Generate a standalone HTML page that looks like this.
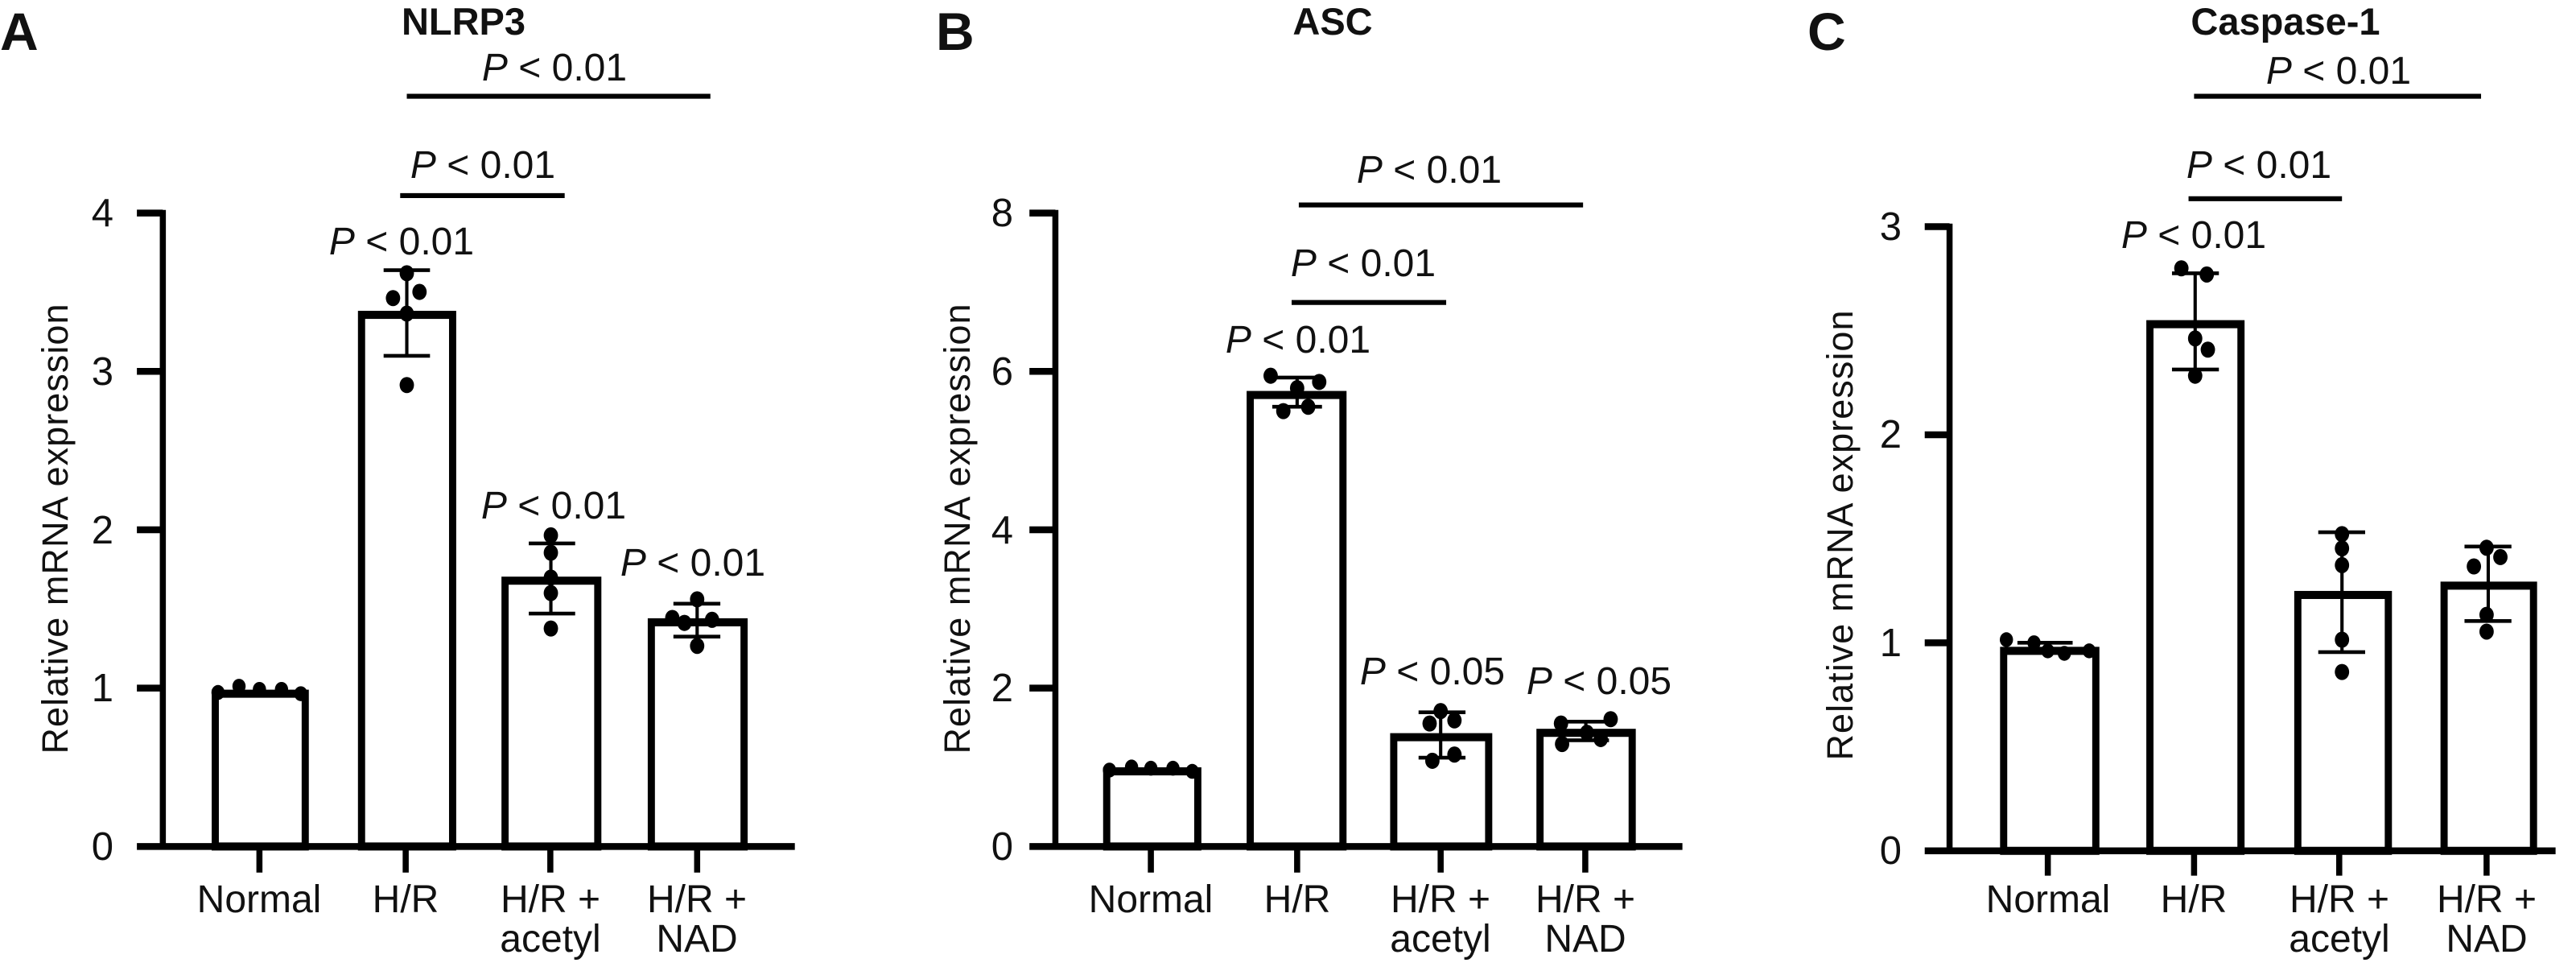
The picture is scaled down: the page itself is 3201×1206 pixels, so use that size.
<!DOCTYPE html>
<html><head><meta charset="utf-8"><style>
html,body{margin:0;padding:0;background:#fff;}
svg text{font-family:"Liberation Sans",sans-serif;fill:#111;}
.tk{font-size:49px;text-anchor:end;}
.xl{font-size:48px;text-anchor:middle;}
.p{font-size:48px;text-anchor:middle;}
.ti{font-size:47px;font-weight:bold;text-anchor:middle;}
.L{font-size:66px;font-weight:bold;}
.yl{font-size:45px;text-anchor:middle;}
</style></head><body>
<svg width="3201" height="1201" viewBox="0 0 3201 1201" xmlns="http://www.w3.org/2000/svg">
<rect width="3201" height="1201" fill="#fff"/>

<svg x="0" y="0" width="1070" height="1201" viewBox="0 0 1560 1557" preserveAspectRatio="none">
<g stroke="#000" stroke-width="11" fill="none">
<line x1="295" y1="338" x2="295" y2="1368"/>
<line x1="248" y1="343" x2="295" y2="343"/><line x1="248" y1="598" x2="295" y2="598"/><line x1="248" y1="853" x2="295" y2="853"/><line x1="248" y1="1108" x2="295" y2="1108"/>
<line x1="248" y1="1363" x2="1440" y2="1363"/>
<line x1="470" y1="1363" x2="470" y2="1405"/><line x1="735" y1="1363" x2="735" y2="1405"/><line x1="997" y1="1363" x2="997" y2="1405"/><line x1="1263" y1="1363" x2="1263" y2="1405"/>
<g stroke-width="13" fill="#fff">
<rect x="390" y="1117" width="163" height="246"/>
<rect x="655" y="507" width="165" height="856"/>
<rect x="915" y="935" width="168" height="428"/>
<rect x="1180" y="1002" width="168" height="361"/>
</g>
<g stroke-width="6">
<line x1="737" y1="435" x2="737" y2="573"/><line x1="695" y1="435" x2="779" y2="435"/><line x1="695" y1="573" x2="779" y2="573"/>
<line x1="998" y1="875" x2="998" y2="988"/><line x1="958" y1="875" x2="1042" y2="875"/><line x1="958" y1="988" x2="1042" y2="988"/>
<line x1="1263" y1="972" x2="1263" y2="1025"/><line x1="1220" y1="972" x2="1305" y2="972"/><line x1="1220" y1="1025" x2="1305" y2="1025"/>
</g>
<line x1="737" y1="155" x2="1287" y2="155" stroke-width="8"/>
<line x1="725" y1="315" x2="1023" y2="315" stroke-width="8"/>
</g>
<g fill="#000">
<circle cx="737" cy="440" r="13"/><circle cx="712" cy="480" r="13"/><circle cx="760" cy="470" r="13"/><circle cx="737" cy="505" r="13"/><circle cx="737" cy="620" r="13"/>
<circle cx="998" cy="862" r="13"/><circle cx="998" cy="890" r="13"/><circle cx="998" cy="930" r="13"/><circle cx="998" cy="955" r="13"/><circle cx="998" cy="1012" r="13"/>
<circle cx="1263" cy="965" r="13"/><circle cx="1218" cy="995" r="13"/><circle cx="1240" cy="1003" r="13"/><circle cx="1290" cy="998" r="13"/><circle cx="1263" cy="1040" r="13"/>
<circle cx="395" cy="1115" r="12"/><circle cx="433" cy="1105" r="12"/><circle cx="470" cy="1110" r="12"/><circle cx="510" cy="1110" r="12"/><circle cx="545" cy="1117" r="12"/>
</g>
</svg>

<svg x="1070" y="0" width="1070" height="1201" viewBox="0 0 1560 1557" preserveAspectRatio="none">
<g stroke="#000" stroke-width="11" fill="none">
<line x1="352" y1="338" x2="352" y2="1368"/>
<line x1="305" y1="343" x2="352" y2="343"/><line x1="305" y1="598" x2="352" y2="598"/><line x1="305" y1="853" x2="352" y2="853"/><line x1="305" y1="1108" x2="352" y2="1108"/>
<line x1="305" y1="1363" x2="1488" y2="1363"/>
<line x1="525" y1="1363" x2="525" y2="1405"/><line x1="790" y1="1363" x2="790" y2="1405"/><line x1="1050" y1="1363" x2="1050" y2="1405"/><line x1="1312" y1="1363" x2="1312" y2="1405"/>
<g stroke-width="13" fill="#fff">
<rect x="445" y="1242" width="165" height="121"/>
<rect x="705" y="636" width="168" height="727"/>
<rect x="965" y="1187" width="172" height="176"/>
<rect x="1230" y="1180" width="167" height="183"/>
</g>
<g stroke-width="6">
<line x1="790" y1="608" x2="790" y2="655"/><line x1="745" y1="608" x2="835" y2="608"/><line x1="745" y1="655" x2="835" y2="655"/>
<line x1="1050" y1="1147" x2="1050" y2="1220"/><line x1="1010" y1="1147" x2="1095" y2="1147"/><line x1="1010" y1="1220" x2="1095" y2="1220"/>
<line x1="1313" y1="1162" x2="1313" y2="1192"/><line x1="1270" y1="1162" x2="1355" y2="1162"/><line x1="1270" y1="1192" x2="1355" y2="1192"/>
</g>
<line x1="793" y1="330" x2="1308" y2="330" stroke-width="8"/>
<line x1="780" y1="487" x2="1060" y2="487" stroke-width="8"/>
</g>
<g fill="#000">
<circle cx="742" cy="605" r="13"/><circle cx="790" cy="625" r="13"/><circle cx="830" cy="615" r="13"/><circle cx="765" cy="662" r="13"/><circle cx="810" cy="655" r="13"/>
<circle cx="1050" cy="1145" r="13"/><circle cx="1030" cy="1165" r="13"/><circle cx="1075" cy="1160" r="13"/><circle cx="1035" cy="1225" r="13"/><circle cx="1075" cy="1215" r="13"/>
<circle cx="1268" cy="1165" r="13"/><circle cx="1358" cy="1158" r="13"/><circle cx="1315" cy="1180" r="13"/><circle cx="1270" cy="1198" r="13"/><circle cx="1340" cy="1190" r="13"/>
<circle cx="450" cy="1240" r="12"/><circle cx="490" cy="1235" r="12"/><circle cx="525" cy="1237" r="12"/><circle cx="565" cy="1237" r="12"/><circle cx="600" cy="1242" r="12"/>
</g>
</svg>

<svg x="2140" y="0" width="1061" height="1201" viewBox="0 0 1547 1557" preserveAspectRatio="none">
<g stroke="#000" stroke-width="11" fill="none">
<line x1="412" y1="360" x2="412" y2="1375"/>
<line x1="367" y1="365" x2="412" y2="365"/><line x1="367" y1="700" x2="412" y2="700"/><line x1="367" y1="1035" x2="412" y2="1035"/>
<line x1="367" y1="1370" x2="1510" y2="1370"/>
<line x1="590" y1="1370" x2="590" y2="1410"/><line x1="855" y1="1370" x2="855" y2="1410"/><line x1="1118" y1="1370" x2="1118" y2="1410"/><line x1="1385" y1="1370" x2="1385" y2="1410"/>
<g stroke-width="13" fill="#fff">
<rect x="510" y="1048" width="167" height="322"/>
<rect x="775" y="522" width="165" height="848"/>
<rect x="1043" y="958" width="164" height="412"/>
<rect x="1308" y="943" width="162" height="427"/>
</g>
<g stroke-width="6">
<line x1="857" y1="440" x2="857" y2="595"/><line x1="815" y1="440" x2="900" y2="440"/><line x1="815" y1="595" x2="900" y2="595"/>
<line x1="1123" y1="857" x2="1123" y2="1050"/><line x1="1080" y1="857" x2="1165" y2="857"/><line x1="1080" y1="1050" x2="1165" y2="1050"/>
<line x1="1388" y1="880" x2="1388" y2="1000"/><line x1="1345" y1="880" x2="1430" y2="880"/><line x1="1345" y1="1000" x2="1430" y2="1000"/>
<line x1="535" y1="1035" x2="635" y2="1035"/>
</g>
<line x1="855" y1="155" x2="1375" y2="155" stroke-width="8"/>
<line x1="845" y1="320" x2="1123" y2="320" stroke-width="8"/>
</g>
<g fill="#000">
<circle cx="832" cy="432" r="13"/><circle cx="878" cy="442" r="13"/><circle cx="857" cy="545" r="13"/><circle cx="880" cy="563" r="13"/><circle cx="857" cy="605" r="13"/>
<circle cx="1123" cy="860" r="13"/><circle cx="1123" cy="883" r="13"/><circle cx="1123" cy="910" r="13"/><circle cx="1123" cy="1030" r="13"/><circle cx="1123" cy="1082" r="13"/>
<circle cx="1385" cy="882" r="13"/><circle cx="1362" cy="912" r="13"/><circle cx="1410" cy="897" r="13"/><circle cx="1385" cy="990" r="13"/><circle cx="1385" cy="1017" r="13"/>
<circle cx="515" cy="1030" r="12"/><circle cx="565" cy="1035" r="12"/><circle cx="590" cy="1048" r="12"/><circle cx="620" cy="1052" r="12"/><circle cx="665" cy="1048" r="12"/>
</g>
</svg>

<text class="L" x="0" y="62">A</text>
<text class="ti" x="576" y="43">NLRP3</text>
<text class="p" x="689" y="100"><tspan font-style="italic">P</tspan> &lt; 0.01</text>
<text class="p" x="600" y="221"><tspan font-style="italic">P</tspan> &lt; 0.01</text>
<text class="p" x="499" y="316"><tspan font-style="italic">P</tspan> &lt; 0.01</text>
<text class="p" x="688" y="644"><tspan font-style="italic">P</tspan> &lt; 0.01</text>
<text class="p" x="861" y="715"><tspan font-style="italic">P</tspan> &lt; 0.01</text>
<text class="tk" x="141" y="281">4</text><text class="tk" x="141" y="478">3</text><text class="tk" x="141" y="675">2</text><text class="tk" x="141" y="871">1</text><text class="tk" x="141" y="1068">0</text>
<text class="xl" x="322" y="1133">Normal</text><text class="xl" x="504" y="1133">H/R</text>
<text class="xl" x="684" y="1133">H/R +</text><text class="xl" x="684" y="1182">acetyl</text>
<text class="xl" x="866" y="1133">H/R +</text><text class="xl" x="866" y="1182">NAD</text>
<text class="yl" transform="translate(84,657) rotate(-90)" textLength="559">Relative mRNA expression</text>

<text class="L" x="1163" y="62">B</text>
<text class="ti" x="1656" y="43">ASC</text>
<text class="p" x="1776" y="227"><tspan font-style="italic">P</tspan> &lt; 0.01</text>
<text class="p" x="1694" y="343"><tspan font-style="italic">P</tspan> &lt; 0.01</text>
<text class="p" x="1613" y="438"><tspan font-style="italic">P</tspan> &lt; 0.01</text>
<text class="p" x="1780" y="850"><tspan font-style="italic">P</tspan> &lt; 0.05</text>
<text class="p" x="1987" y="862"><tspan font-style="italic">P</tspan> &lt; 0.05</text>
<text class="tk" x="1259" y="281">8</text><text class="tk" x="1259" y="478">6</text><text class="tk" x="1259" y="675">4</text><text class="tk" x="1259" y="871">2</text><text class="tk" x="1259" y="1068">0</text>
<text class="xl" x="1430" y="1133">Normal</text><text class="xl" x="1612" y="1133">H/R</text>
<text class="xl" x="1790" y="1133">H/R +</text><text class="xl" x="1790" y="1182">acetyl</text>
<text class="xl" x="1970" y="1133">H/R +</text><text class="xl" x="1970" y="1182">NAD</text>
<text class="yl" transform="translate(1205,657) rotate(-90)" textLength="559">Relative mRNA expression</text>

<text class="L" x="2246" y="62">C</text>
<text class="ti" x="2840" y="43">Caspase-1</text>
<text class="p" x="2906" y="104"><tspan font-style="italic">P</tspan> &lt; 0.01</text>
<text class="p" x="2807" y="221"><tspan font-style="italic">P</tspan> &lt; 0.01</text>
<text class="p" x="2726" y="308"><tspan font-style="italic">P</tspan> &lt; 0.01</text>
<text class="tk" x="2363" y="298">3</text><text class="tk" x="2363" y="556">2</text><text class="tk" x="2363" y="815">1</text><text class="tk" x="2363" y="1073">0</text>
<text class="xl" x="2545" y="1133">Normal</text><text class="xl" x="2726" y="1133">H/R</text>
<text class="xl" x="2907" y="1133">H/R +</text><text class="xl" x="2907" y="1182">acetyl</text>
<text class="xl" x="3090" y="1133">H/R +</text><text class="xl" x="3090" y="1182">NAD</text>
<text class="yl" transform="translate(2302,665) rotate(-90)" textLength="559">Relative mRNA expression</text>
</svg>
</body></html>
